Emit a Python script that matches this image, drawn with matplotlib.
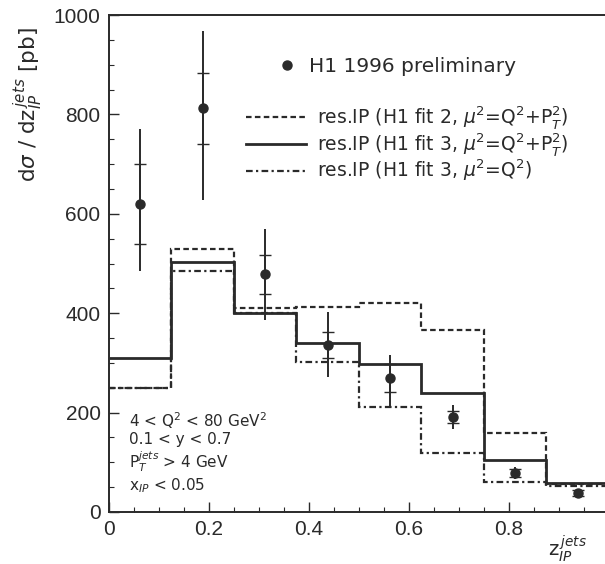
"""
H1 1996 diffractive dijets: d sigma / d z_IP(jets) compared with
resolved-pomeron predictions.
"""
import numpy as np
import matplotlib
matplotlib.use("Agg")
import matplotlib.pyplot as plt
from matplotlib.lines import Line2D

plt.rcParams["font.family"] = ["Liberation Sans", "DejaVu Sans"]
plt.rcParams["mathtext.fontset"] = "custom"
plt.rcParams["mathtext.rm"] = "DejaVu Sans"
plt.rcParams["mathtext.it"] = "DejaVu Sans:italic"
plt.rcParams["mathtext.bf"] = "DejaVu Sans:bold"

# bin edges in z_IP
edges = [0.0, 0.125, 0.25, 0.375, 0.5, 0.625, 0.75, 0.875, 1.0]

# H1 data
data_y = [620, 812, 478, 336, 270, 191, 78, 38]
stat_err = [80, 72, 40, 27, 28, 12, 8, 6]
tot_up = [150, 155, 92, 66, 46, 25, 12, 9]
tot_dn = [135, 185, 92, 64, 60, 25, 12, 9]

# model histograms
fit2_q2pt2 = [250, 530, 410, 413, 420, 367, 158, 56]
fit3_q2pt2 = [310, 503, 400, 341, 298, 239, 104, 58]
fit3_q2 = [250, 485, 400, 302, 211, 119, 60, 52]

labels = ["H1 1996 preliminary",
          r"res.IP (H1 fit 2, $\mu^2$=Q$^2$+P$_T^2$)",
          r"res.IP (H1 fit 3, $\mu^2$=Q$^2$+P$_T^2$)",
          r"res.IP (H1 fit 3, $\mu^2$=Q$^2$)"]

ink = "#2a2a2a"
wide = "DejaVu Sans"
fig = plt.figure(figsize=(6.05, 5.64), dpi=100)
ax = fig.add_axes([0.180, 0.0922, 0.8264, 0.8812])


def step(vals, **kw):
    ax.stairs(vals, edges, baseline=None, color=ink, **kw)


step(fit2_q2pt2, lw=1.6, ls=(0, (2.5, 1.5)))
step(fit3_q2pt2, lw=2.0, ls="-")
step(fit3_q2, lw=1.6, ls=(0, (3, 1.5, 1, 1.5)))

centers = 0.5 * (np.array(edges[:-1]) + np.array(edges[1:]))
ax.errorbar(centers, data_y, yerr=[tot_dn, tot_up], fmt="none",
            ecolor=ink, elinewidth=1.4, capsize=0)
ax.errorbar(centers, data_y, yerr=stat_err, fmt="o", color=ink,
            ms=6.5, elinewidth=1.4, capsize=4, capthick=1.0)

ax.set_xlim(0, 1.0)
ax.set_ylim(0, 1000)
ax.set_xticks([0, 0.2, 0.4, 0.6, 0.8])
ax.set_xticklabels(["0", "0.2", "0.4", "0.6", "0.8"])
ax.set_xticks(np.arange(0, 1.0, 0.05), minor=True)
ax.set_yticks([0, 200, 400, 600, 800, 1000])
ax.set_yticks(np.arange(0, 1001, 50), minor=True)
ax.tick_params(direction="in", which="both", colors=ink, labelsize=15,
               top=False, right=False)
ax.tick_params(which="major", length=7, width=1.0, pad=6)
ax.tick_params(which="minor", length=3.5, width=0.8)
for s in ax.spines.values():
    s.set_color(ink)
    s.set_linewidth(1.4)

ax.text(-0.162, 0.82, r"d$\sigma$ / dz$_{IP}^{\,jets}$ [pb]", rotation=90,
        transform=ax.transAxes, ha="center", va="center",
        fontsize=15.5, color=ink, family=wide)
fig.text(0.905, 0.027, r"z$_{IP}^{\,jets}$", fontsize=14, color=ink,
         ha="left", va="center", family=wide)

# legend: data point and the three model curves
h_data = Line2D([], [], marker="o", ls="none", color=ink, ms=6.5)
leg1 = ax.legend([h_data], [labels[0]], loc="upper left",
                 bbox_to_anchor=(0.30, 0.952), frameon=False,
                 prop={"family": wide, "size": 14.5},
                 handlelength=1.0, handletextpad=0.6, labelcolor=ink)
ax.add_artist(leg1)
h_models = [Line2D([], [], color=ink, lw=1.6, ls=(0, (2.5, 1.5))),
            Line2D([], [], color=ink, lw=2.0, ls="-"),
            Line2D([], [], color=ink, lw=1.6, ls=(0, (3, 1.5, 1, 1.5)))]
ax.legend(h_models, labels[1:], loc="upper left",
          bbox_to_anchor=(0.24, 0.855), frameon=False,
          prop={"family": wide, "size": 13.5},
          handlelength=3.2, handletextpad=0.6, labelspacing=0.0,
          labelcolor=ink)

cuts = "\n".join([r"4 < Q$^2$ < 80 GeV$^2$",
                  "0.1 < y < 0.7",
                  r"P$_T^{jets}$ > 4 GeV",
                  r"x$_{IP}$ < 0.05"])
ax.text(0.04, 0.205, cuts, transform=ax.transAxes, ha="left", va="top",
        fontsize=11, color=ink, linespacing=1.12, family=wide)

fig.savefig("out.png", dpi=100)
